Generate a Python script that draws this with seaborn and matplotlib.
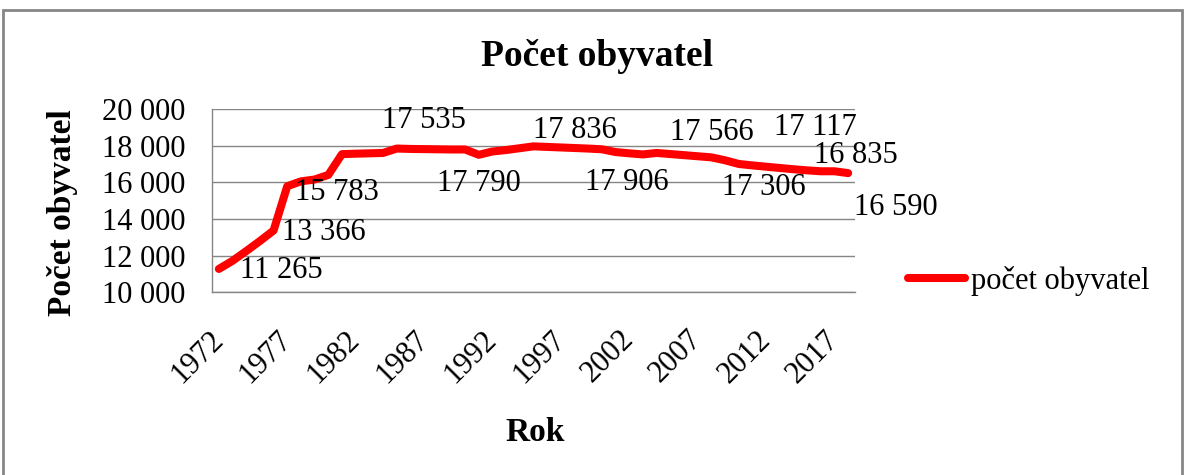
import numpy as np
import pandas as pd
import matplotlib

matplotlib.use("Agg")
import matplotlib.pyplot as plt
import seaborn as sns
from matplotlib.patches import Rectangle

# Hodnoty
roky = list(range(1972, 2019))
obyvatel = [
    11265, 11710, 12240, 12790, 13366, 15783, 16050, 16150, 16400, 17535,
    17560, 17580, 17600, 17840, 17820, 17810, 17800, 17790, 17790, 17500,
    17680, 17760, 17860, 17960, 17930, 17900, 17870, 17840, 17800, 17650,
    17580, 17520, 17600, 17540, 17480, 17420, 17360, 17200, 17000, 16920,
    16850, 16780, 16710, 16650, 16600, 16600, 16500,
]

# Popisky dat (text, rok, hodnota umisteni)
popisky = ["11 265", "13 366", "15 783", "17 535", "17 790", "17 836",
           "17 906", "17 566", "17 306", "17 117", "16 835", "16 590"]
popisky_x = [1976.6, 1979.7, 1980.6, 1987.0, 1991.0, 1998.0,
             2001.8, 2008.0, 2011.8, 2015.6, 2018.6, 2021.5]
popisky_y = [11194, 13230, 15432, 19395, 15927, 18844,
             15982, 18734, 15707, 19010, 17468, 14607]

df = pd.DataFrame({"Rok": roky, "Počet obyvatel": obyvatel})

sns.set_style("white")
plt.rcParams['font.family'] = ['Liberation Serif', 'DejaVu Serif']
plt.rcParams['text.color'] = 'black'
plt.rcParams['axes.labelcolor'] = 'black'
plt.rcParams['xtick.labelcolor'] = 'black'
plt.rcParams['ytick.labelcolor'] = 'black'

fig = plt.figure(figsize=(11.85, 4.75), dpi=100)
ax = fig.add_axes([212 / 1185, 0.385, 643 / 1185, 0.3855])

sns.lineplot(data=df, x="Rok", y="Počet obyvatel", ax=ax, color="#FF0000",
             linewidth=5.8, solid_capstyle="round", solid_joinstyle="round",
             label="počet obyvatel")

seda = "#868686"
ax.set_ylim(10000, 20000)
ax.set_xlim(1971.5, 2018.5)
ax.set_yticks(range(10000, 20001, 2000))
ax.set_yticklabels([f"{v:,}".replace(",", " ") for v in range(10000, 20001, 2000)],
                   fontsize=22)
ax.yaxis.grid(True, color=seda, linewidth=1)
ax.set_axisbelow(True)

ax.set_xticks(range(1972, 2019, 5))
ax.set_xticks(np.arange(1971.5, 2019, 1), minor=True)
ax.set_xticklabels([str(r) for r in range(1972, 2019, 5)], fontsize=22,
                   rotation=45, ha="right", va="center", rotation_mode="anchor")
ax.tick_params(axis="x", which="major", length=0, pad=31)
ax.tick_params(axis="x", which="minor", length=6, color=seda, direction="out")
ax.tick_params(axis="y", length=5, color=seda, direction="out", pad=14)

for s in ["top", "right"]:
    ax.spines[s].set_visible(False)
for s in ["left", "bottom"]:
    ax.spines[s].set_color(seda)
    ax.spines[s].set_linewidth(1)

for t, x, y in zip(popisky, popisky_x, popisky_y):
    ax.text(x, y, t, fontsize=22, ha="center", va="center", clip_on=False,
            color="black")

fig.text(597 / 1185, 1 - 56 / 475, "Počet obyvatel", fontsize=27,
         fontweight="bold", ha="center", va="center", color="black")
ax.set_xlabel("Rok", fontsize=24, fontweight="bold", va="center")
ax.xaxis.set_label_coords((535 - 212) / 643, (292 - 432) / 183)
ax.set_ylabel("Počet obyvatel", fontsize=24, fontweight="bold", va="center")
ax.yaxis.set_label_coords((63 - 212) / 643, (292 - 213) / 183)

leg = ax.legend(loc="center left", bbox_to_anchor=(908 / 1185, 1 - 281 / 475),
                bbox_transform=fig.transFigure, frameon=False, borderpad=0,
                borderaxespad=0, fontsize=22, handlelength=1.85,
                handletextpad=0.2)
for txt in leg.get_texts():
    txt.set_color("black")

fig.patches.append(Rectangle((3 / 1185, -0.05), 1179 / 1185, 1.05 - 10 / 475,
                             transform=fig.transFigure, fill=False,
                             edgecolor=seda, linewidth=2))

fig.savefig("out.png", dpi=100)
